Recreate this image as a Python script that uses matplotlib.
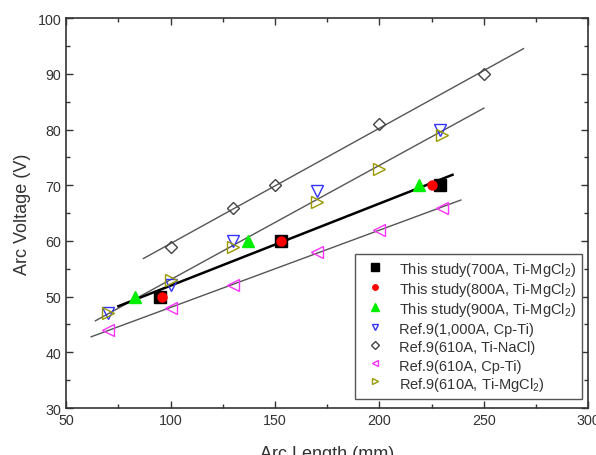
import matplotlib.pyplot as plt
import numpy as np

plt.rcParams['font.family'] = ['Liberation Sans', 'DejaVu Sans']
plt.rcParams['mathtext.fontset'] = 'custom'
plt.rcParams['mathtext.rm'] = 'Liberation Sans'

# this study
x700 = [95, 153, 229]
y700 = [50, 60, 70]
x800 = [96, 153, 225]
y800 = [50, 60, 70]
x900 = [83, 137, 219]
y900 = [50, 60, 70]

# Ref. 9
x1000 = [70, 100, 130, 170, 229]
y1000 = [47, 52, 60, 69, 80]
x_nacl = [100, 130, 150, 200, 250]
y_nacl = [59, 66, 70, 81, 90]
x_cpti = [70, 100, 130, 170, 200, 230]
y_cpti = [44, 48, 52, 58, 62, 66]
x_mgcl = [70, 100, 130, 170, 200, 230]
y_mgcl = [47, 53, 59, 67, 73, 79]

# ranges of the fitted lines
span_study = (75, 235)
span_nacl = (87, 269)
span_cpti = (62, 239)
span_mgcl = (64, 250)


def fit_line(ax, xs, ys, span, **kw):
    k, b = np.polyfit(xs, ys, 1)
    xx = np.array(span)
    ax.plot(xx, k * xx + b, **kw)


fig, ax = plt.subplots(figsize=(5.96, 4.56), dpi=100)
fig.subplots_adjust(left=0.111, right=0.987, bottom=0.103, top=0.958)

thin = dict(color='#555555', lw=1.0, zorder=1)
fit_line(ax, x_nacl, y_nacl, span_nacl, **thin)
fit_line(ax, x_cpti, y_cpti, span_cpti, **thin)
fit_line(ax, x1000 + x_mgcl, y1000 + y_mgcl, span_mgcl, **thin)
fit_line(ax, x700 + x800 + x900, y700 + y800 + y900, span_study,
         color='black', lw=1.8, zorder=1)

sub = r'$\mathregular{_2}$'
ax.plot(x700, y700, 's', color='black', ms=8.5, ls='none',
        label='This study(700A, Ti-MgCl' + sub + ')')
ax.plot(x800, y800, 'o', color='red', ms=6.5, ls='none',
        label='This study(800A, Ti-MgCl' + sub + ')')
ax.plot(x900, y900, '^', color='#00ee00', ms=9, ls='none',
        label='This study(900A, Ti-MgCl' + sub + ')')
ax.plot(x1000, y1000, 'v', mfc='none', mec='#3333ff', ms=8, ls='none',
        label='Ref.9(1,000A, Cp-Ti)')
ax.plot(x_nacl, y_nacl, 'D', mfc='none', mec='#444444', ms=6.5, ls='none',
        label='Ref.9(610A, Ti-NaCl)')
ax.plot(x_cpti, y_cpti, '<', mfc='none', mec='#ff33ff', ms=8, ls='none',
        label='Ref.9(610A, Cp-Ti)')
ax.plot(x_mgcl, y_mgcl, '>', mfc='none', mec='#999900', ms=8, ls='none',
        label='Ref.9(610A, Ti-MgCl' + sub + ')')

ax.set_xlim(50, 300)
ax.set_ylim(30, 100)
ax.set_xticks(np.arange(50, 301, 50))
ax.set_xticks(np.arange(50, 301, 25), minor=True)
ax.set_yticks(np.arange(30, 101, 10))
ax.set_yticks(np.arange(30, 101, 5), minor=True)
ax.tick_params(which='both', direction='in', top=True, right=True,
               labelsize=10.3, labelcolor='#333333', color='#333333')
ax.tick_params(which='major', length=5, width=1)
ax.tick_params(which='minor', length=3, width=1)
for s in ax.spines.values():
    s.set_linewidth(1.2)
    s.set_color('#333333')

ax.set_xlabel('Arc Length (mm)', fontsize=13, color='#333333', labelpad=13)
ax.set_ylabel('Arc Voltage (V)', fontsize=13, color='#333333', labelpad=5)

leg = ax.legend(loc='lower right', bbox_to_anchor=(0.996, 0.013),
                fontsize=10.5, markerscale=0.6, fancybox=False,
                edgecolor='#555555', framealpha=1, handlelength=1.9,
                handleheight=1.3, handletextpad=0.7, borderpad=0.4,
                labelspacing=0.15, borderaxespad=0.3)
for t in leg.get_texts():
    t.set_color('#333333')

fig.savefig('out.png', dpi=100)
